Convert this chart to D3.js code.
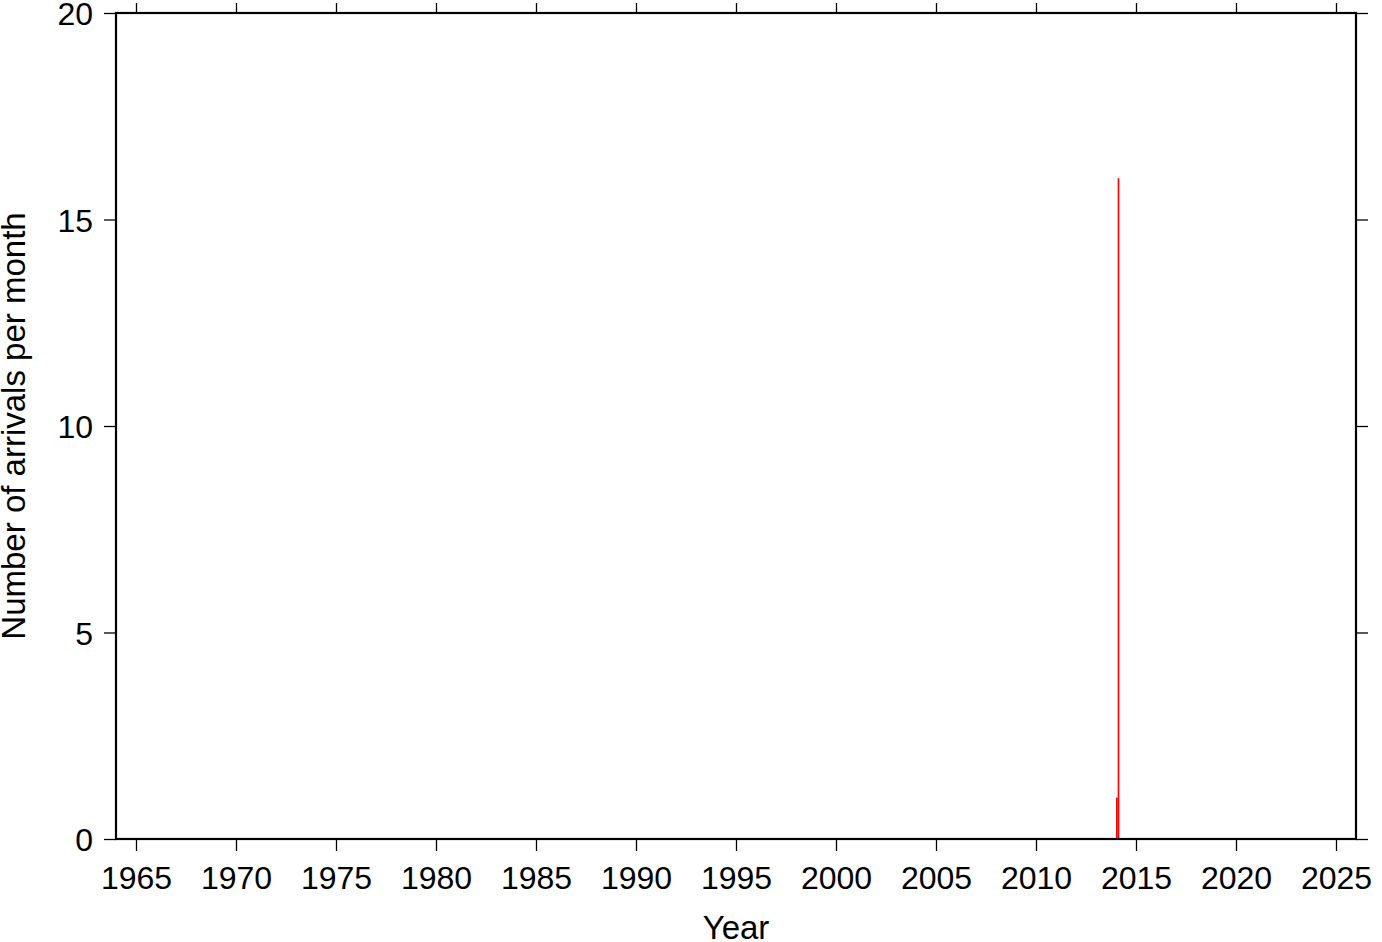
<!DOCTYPE html>
<html><head><meta charset="utf-8">
<script src="https://cdn.jsdelivr.net/npm/d3@7"></script>
<style>body{margin:0;background:#fff}svg{display:block}text{font-family:"Liberation Sans",Arial,Helvetica,sans-serif;fill:#000}</style>
</head><body>
<script>
const months = ["2014-01", "2014-02"];
const counts = [1, 16];
const xTicks = [1965,1970,1975,1980,1985,1990,1995,2000,2005,2010,2015,2020,2025];
const yTicks = [0,5,10,15,20];
const xLabel = "Year";
const yLabel = "Number of arrivals per month";

const W = 1382, H = 942;
const L = 116, R = 1356, T = 13, B = 839;
const svg = d3.select("body").append("svg").attr("width", W).attr("height", H);
const x = d3.scaleLinear().domain([1964, 2026]).range([L, R]);
const y = d3.scaleLinear().domain([0, 20]).range([B, T]);
const fs = 32, fsT = 33;

const data = months.map((m, i) => {
  const [yr, mo] = m.split("-").map(Number);
  return {x0: yr + (mo - 1) / 12, x1: yr + mo / 12, v: counts[i]};
});
svg.append("g").selectAll("rect").data(data).join("rect")
  .attr("x", d => x(d.x0)).attr("width", d => x(d.x1) - x(d.x0))
  .attr("y", d => y(d.v)).attr("height", d => y(0) - y(d.v))
  .attr("fill", "#ff0000");

// axes
const gb = svg.append("g").attr("transform", `translate(0,${B})`)
  .call(d3.axisBottom(x).tickValues(xTicks).tickFormat(d3.format("d")).tickSize(12).tickPadding(15));
const gt = svg.append("g").attr("transform", `translate(0,${T})`)
  .call(d3.axisTop(x).tickValues(xTicks).tickFormat("").tickSize(10));
const gl = svg.append("g").attr("transform", `translate(${L},0)`)
  .call(d3.axisLeft(y).tickValues(yTicks).tickFormat(d3.format("d")).tickSize(12).tickPadding(11));
const gr = svg.append("g").attr("transform", `translate(${R},0)`)
  .call(d3.axisRight(y).tickValues(yTicks).tickFormat("").tickSize(12));
[gb, gt, gl, gr].forEach(g => {
  g.select(".domain").remove();
  g.selectAll(".tick line").attr("stroke", "#000").attr("stroke-width", 1.3);
  g.selectAll(".tick text").attr("font-size", fs).attr("font-family", '"Liberation Sans",Arial,sans-serif').attr("fill", "#000");
});
gl.selectAll(".tick text").attr("dy", "0.36em");

svg.append("rect").attr("x", L).attr("y", T).attr("width", R - L).attr("height", B - T)
  .attr("fill", "none").attr("stroke", "#000").attr("stroke-width", 2.2);

svg.append("text").attr("x", (L + R) / 2).attr("y", 939).attr("text-anchor", "middle")
  .attr("font-size", fsT).text(xLabel);
svg.append("text").attr("transform", `translate(25,${(T + B) / 2}) rotate(-90)`)
  .attr("text-anchor", "middle").attr("font-size", fsT).text(yLabel);
</script>
</body></html>
